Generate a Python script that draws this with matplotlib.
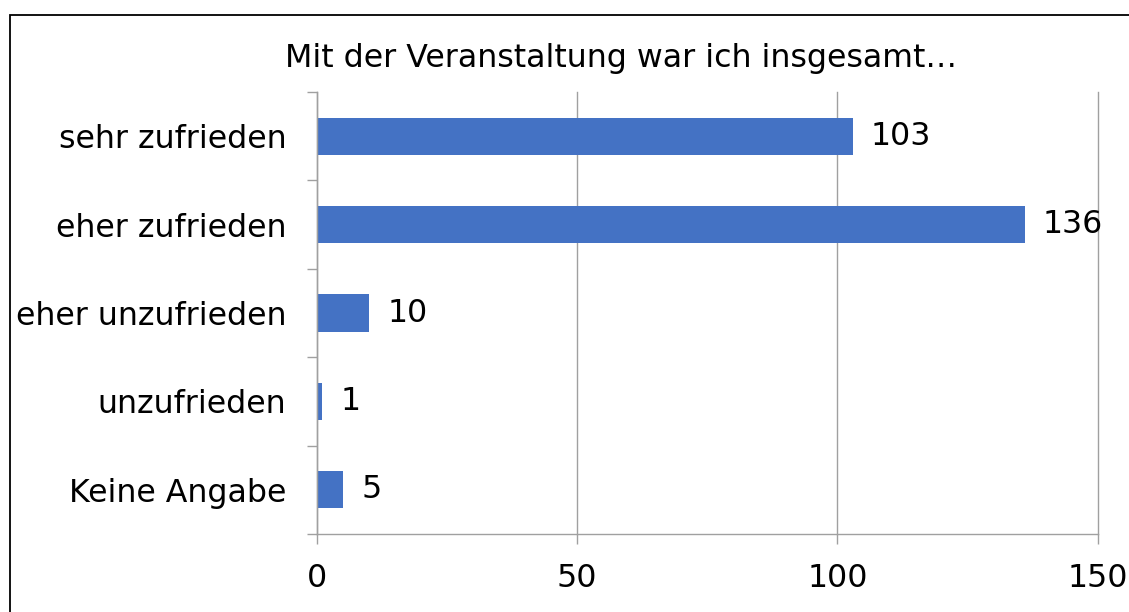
import matplotlib
matplotlib.use("Agg")
import matplotlib.pyplot as plt
from matplotlib.patches import Rectangle

# data
categories = ["sehr zufrieden", "eher zufrieden", "eher unzufrieden", "unzufrieden", "Keine Angabe"]
counts = [103, 136, 10, 1, 5]
x_ticks = [0, 50, 100, 150]
title = "Mit der Veranstaltung war ich insgesamt…"

W, H = 1129, 612
FS = 22.8
fig = plt.figure(figsize=(W / 100, H / 100), dpi=100)
plt.rcParams["font.family"] = ["DejaVu Sans"]

# outer chart frame (clipped at right/bottom like the reference)
fig.patches.append(Rectangle((10 / W, -0.1), 1.2, 1 - 15 / H + 0.1,
                             transform=fig.transFigure, fill=False,
                             edgecolor="black", linewidth=1.3))

ax = fig.add_axes([317 / W, 1 - 534 / H, (1097.5 - 317) / W, (534 - 92) / H])
pos = list(range(len(categories)))
ax.barh(pos, counts, height=0.42, color="#4472C4")
ax.set_ylim(len(categories) - 0.5, -0.5)
ax.set_xlim(0, 150)

ax.set_xticks(x_ticks)
ax.set_yticks([p - 0.5 for p in pos] + [len(categories) - 0.5], minor=False)
ax.set_yticklabels([])
ax.set_yticks(pos, minor=True)
ax.set_yticklabels(categories, minor=True)
ax.tick_params(axis="y", which="major", length=7.2, color="#a0a0a0", width=1)
ax.tick_params(axis="y", which="minor", length=0, pad=22, labelsize=FS)
ax.tick_params(axis="x", length=7.2, color="#a0a0a0", width=1, pad=14, labelsize=FS)

ax.grid(axis="x", color="#a0a0a0", linewidth=1)
for gl in ax.get_xgridlines():
    gl.set_clip_on(False)
ax.set_axisbelow(True)
for s in ["top", "right"]:
    ax.spines[s].set_visible(False)
for s in ["left", "bottom"]:
    ax.spines[s].set_color("#a0a0a0")
    ax.spines[s].set_linewidth(1)

for p, v in zip(pos, counts):
    ax.annotate(str(v), (v, p), xytext=(13, 0), textcoords="offset points",
                va="center", ha="left", fontsize=FS)

fig.text(621 / W, 1 - 58.5 / H, title, ha="center", va="center", fontsize=FS)

fig.savefig("out.png", dpi=100)
